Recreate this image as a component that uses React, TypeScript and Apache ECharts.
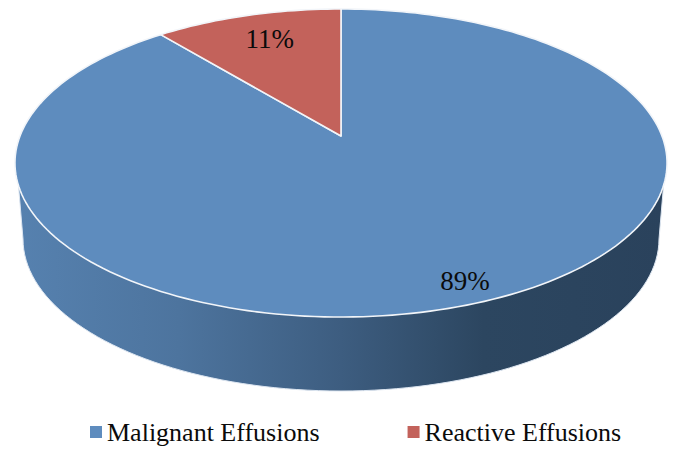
import React, { useEffect, useRef } from "react";
import * as echarts from "echarts";

const categories = ["Malignant Effusions", "Reactive Effusions"];
const values = [89, 11];
const colors = ["#5E8CBE", "#C3625B"];

const W = 689;
const H = 459;
const CX = 341;
const APEX_Y = 136;
const K = 0.1753;
const A = 321;
const B = 149.3;
const STEP = 0.004;

// Perspective projection of a point on the unit disc (angle measured clockwise from the top, r = radius fraction)
function project(frac: number, r: number): [number, number] {
  const th = frac * Math.PI * 2;
  const u = Math.sin(th) * r;
  const v = Math.cos(th) * r;
  const d = 1 + K * v;
  return [CX + (A * u) / d, APEX_Y - (B * v) / d];
}

function sectorPoints(f0: number, f1: number): number[][] {
  const pts: number[][] = [project(0, 0)];
  const n = Math.max(2, Math.ceil((f1 - f0) / STEP));
  for (let i = 0; i <= n; i++) pts.push(project(f0 + ((f1 - f0) * i) / n, 1));
  return pts;
}

function wallPoints(): number[][] {
  const pts: number[][] = [];
  const bx = 318, by = 239, bry = 152;
  // start on rim of top ellipse, right side
  pts.push([664, 180]);
  for (let a = 0; a <= 180; a += 2) {
    const t = (a * Math.PI) / 180;
    pts.push([CX + bx * Math.cos(t), by + bry * Math.sin(t)]);
  }
  pts.push([18, 180]);
  pts.push([CX, 200]);
  return pts;
}

const total = values.reduce((s, v) => s + v, 0);
const starts = values.map((_, i) => values.slice(0, i).reduce((s, v) => s + v, 0) / total);
const labelRadius = [0.88, 0.78];
const labelShift = [12, 4];

function sliceSeries(i: number): any {
  return {
    type: "custom",
    name: categories[i],
    coordinateSystem: "none",
    silent: true,
    z: 3,
    itemStyle: { color: colors[i] },
    data: [[values[i]]],
    renderItem: (_p: any, api: any) => {
      const v = api.value(0) as number;
      const f0 = starts[i];
      const f1 = f0 + v / total;
      const [lx, ly] = project((f0 + f1) / 2, labelRadius[i]);
      return {
        type: "group",
        children: [
          {
            type: "polygon",
            shape: { points: sectorPoints(f0, f1) },
            style: { fill: colors[i], stroke: "#F2F5F9", lineWidth: 1.6, lineJoin: "round" },
          },
          {
            type: "text",
            z2: 10,
            style: {
              x: lx + labelShift[i],
              y: ly,
              text: `${v}%`,
              fill: "#0B0B0B",
              font: '27px "Liberation Serif"',
              align: "center",
              verticalAlign: "middle",
            },
          },
        ],
      };
    },
  };
}

export default function App() {
  const ref = useRef<HTMLDivElement>(null);
  useEffect(() => {
    const chart = echarts.init(ref.current!, undefined, { renderer: "svg" });
    chart.setOption({
      animation: false,
      backgroundColor: "#FFFFFF",
      legend: {
        data: categories,
        left: 85,
        top: 414,
        icon: "rect",
        itemWidth: 12,
        itemHeight: 12,
        itemGap: 88,
        textStyle: { fontFamily: "Liberation Serif", fontSize: 26, color: "#0B0B0B", padding: [0, 0, 0, 0] },
        selectedMode: false,
      },
      series: [
        {
          type: "custom",
          name: "wall",
          coordinateSystem: "none",
          silent: true,
          z: 1,
          data: [[1]],
          renderItem: () => ({
            type: "polygon",
            shape: { points: wallPoints() },
            style: {
              stroke: "#DDE6F1",
              lineWidth: 1,
              fill: new echarts.graphic.LinearGradient(0, 0, 1, 0, [
                { offset: 0, color: "#5681AF" },
                { offset: 0.25, color: "#4D749E" },
                { offset: 0.5, color: "#3D5D80" },
                { offset: 0.72, color: "#2C4660" },
                { offset: 1, color: "#2A425C" },
              ]),
            },
          }),
        },
        sliceSeries(0),
        sliceSeries(1),
      ],
    });
    return () => chart.dispose();
  }, []);
  return <div ref={ref} style={{ position: "absolute", left: 0, top: 0, width: W, height: H }} />;
}
